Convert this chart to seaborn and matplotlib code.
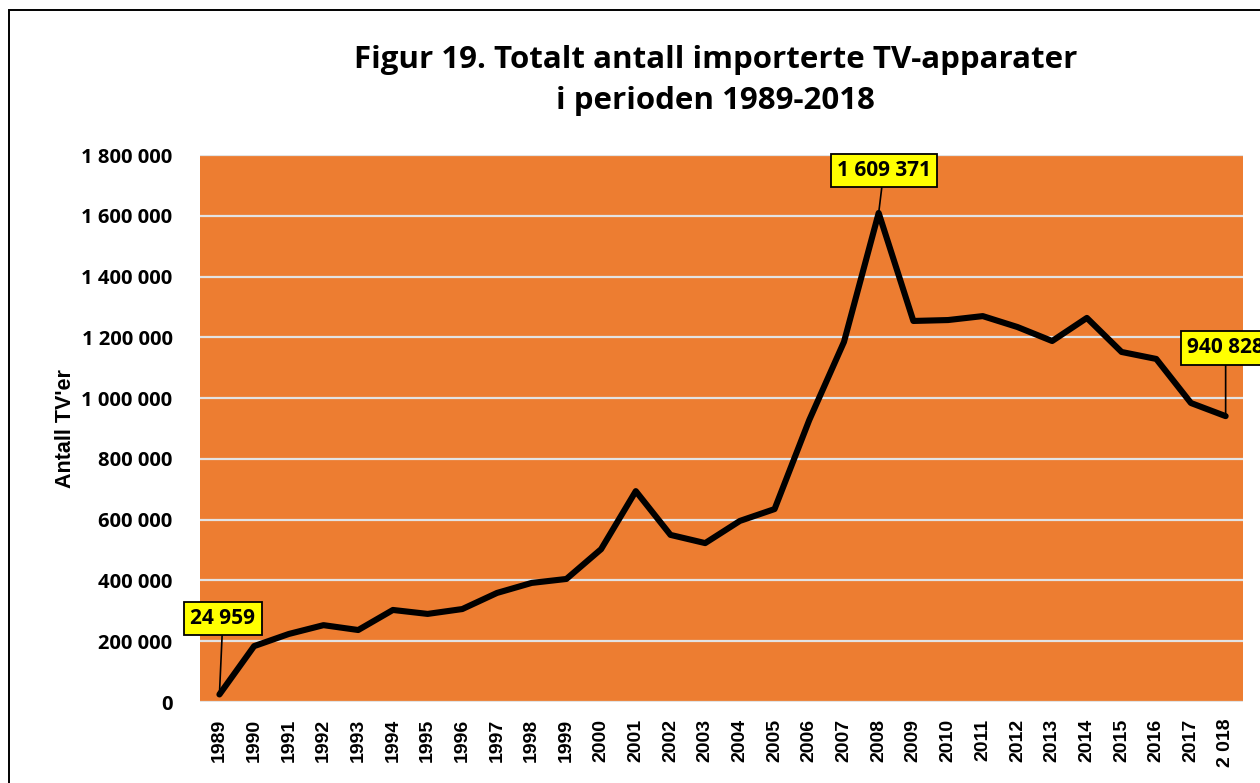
import pandas as pd
import matplotlib.pyplot as plt
import seaborn as sns
from matplotlib.patches import Rectangle

# data
years = list(range(1989, 2019))
year_labels = [str(y) for y in years[:-1]] + ["2 018"]
imports = [24959, 184000, 224000, 253000, 237000, 303000, 290000, 306000, 359000, 392000,
           405000, 503000, 694000, 550000, 523000, 596000, 635000, 928000, 1185000, 1609371,
           1254000, 1257000, 1270000, 1234000, 1188000, 1264000, 1152000, 1129000, 984000, 940828]
labelled = {1989: "24 959", 2008: "1 609 371", 2018: "940 828"}

df = pd.DataFrame({"idx": range(len(years)), "year": years, "antall": imports})

sns.set_style("white")
plt.rcParams['font.family'] = ['Open Sans', 'DejaVu Sans']
plt.rcParams['text.color'] = 'black'

fig = plt.figure(figsize=(12.6, 7.83), dpi=100)
ax = fig.add_axes([0.159, 0.1034, 0.8275, 0.6986])
ax.set_facecolor("#ED7D31")

sns.lineplot(data=df, x="idx", y="antall", ax=ax, color="black", linewidth=4.4, zorder=3)

ax.set_ylim(0, 1800000)
ax.set_xlim(-0.55, 29.5)
ax.set_yticks(range(0, 1800001, 200000))
ax.set_yticklabels([f"{v:,}".replace(",", " ") for v in range(0, 1800001, 200000)],
                   fontsize=14.5, fontweight="bold", color="black")
ax.set_xticks(range(len(years)))
ax.set_xticklabels(year_labels, rotation=90, fontsize=14, fontweight="bold",
                   family="Liberation Sans", color="black")
ax.tick_params(axis="y", length=0, pad=20)
ax.tick_params(axis="x", length=0, pad=12)
ax.grid(axis="y", color="#E3E3E3", linewidth=1.6)
ax.set_axisbelow(True)
for s in ax.spines.values():
    s.set_visible(False)
ax.set_xlabel("")
ax.set_ylabel("Antall TV'er", fontsize=15.5, fontweight="bold", family="Liberation Sans",
              color="black", labelpad=4)

# yellow value boxes (the last one runs off the right edge, as in the original)
box = dict(boxstyle="square,pad=0.3", facecolor="yellow", edgecolor="black", linewidth=1.3)
offsets = {1989: (0.1, 250000), 2008: (0.15, 140000), 2018: (0.0, 225000)}
for y, txt in labelled.items():
    i = years.index(y)
    dx, dy = offsets[y]
    ax.annotate(txt, xy=(i, imports[i]), xytext=(i + dx, imports[i] + dy),
                ha="center", va="center", fontsize=15, fontweight="bold",
                bbox=box, annotation_clip=False,
                arrowprops=dict(arrowstyle="-", color="black", linewidth=1.2, shrinkA=0, shrinkB=0),
                zorder=5)

fig.suptitle("Figur 19. Totalt antall importerte TV-apparater\ni perioden 1989-2018",
             x=0.568, y=0.942, fontsize=22.5, fontweight="bold", linespacing=1.45)

# outer frame of the chart object
fig.patches.append(Rectangle((0.0075, -0.1), 1.1, 1.087, transform=fig.transFigure,
                             fill=False, edgecolor="black", linewidth=1.4))

fig.savefig("out.png", dpi=100)
